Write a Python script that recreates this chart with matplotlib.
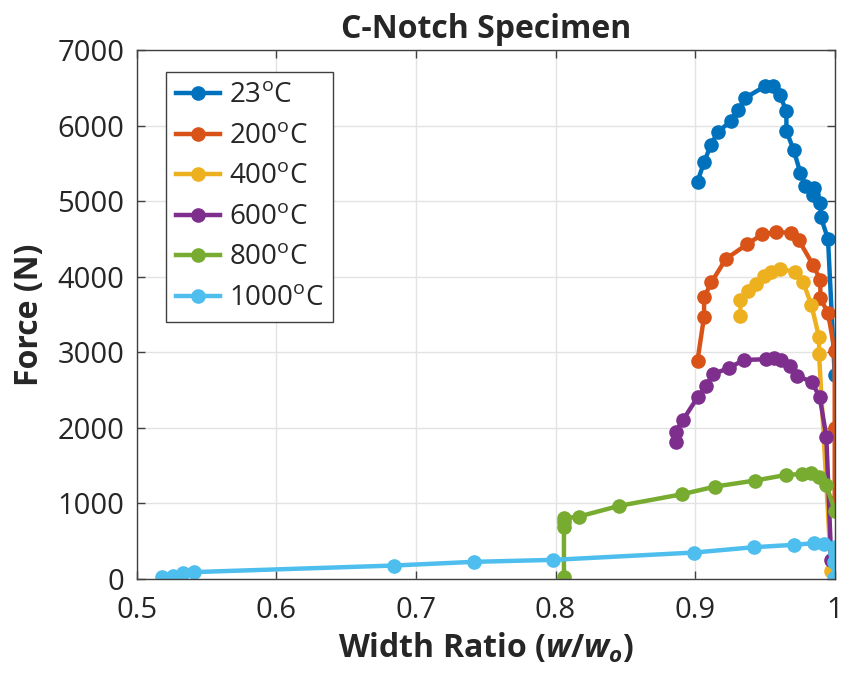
import numpy as np
import matplotlib
matplotlib.use("Agg")
import matplotlib.pyplot as plt
from matplotlib.ticker import MultipleLocator, FormatStrFormatter

# =========================
# DATI
# =========================
x_23 = [0.9017, 0.9064, 0.9112, 0.9164, 0.926, 0.931, 0.936, 0.950, 0.9558, 0.9606,
        0.9654, 0.9654, 0.9706, 0.9754, 0.979, 0.985, 0.9845, 0.9897, 0.990, 0.9952, 1.0]
f_23 = [5260, 5514, 5743, 5919, 6065, 6206, 6369, 6520, 6520, 6405,
        6193, 5928, 5677, 5376, 5200, 5170, 5081, 4971, 4794, 4499, 2700]

x_200 = [0.9017, 0.9064, 0.9064, 0.9117, 0.922, 0.9372, 0.948, 0.9577, 0.969, 0.9742,
         0.9845, 0.9897, 0.9897, 0.9952, 1.0, 1.0, 1.0]
f_200 = [2889, 3471, 3727, 3926, 4235, 4429, 4561, 4588, 4583, 4486,
         4155, 3957, 3714, 3520, 3017, 2003, 1023]

x_400 = [0.9324, 0.9324, 0.938, 0.9434, 0.949, 0.9547, 0.9606, 0.9718, 0.9773, 0.9833,
         0.9888, 0.9888, 0.9975]
f_400 = [3485, 3692, 3811, 3904, 4010, 4059, 4098, 4067, 3934, 3626,
         3198, 2973, 110]

x_600 = [0.8861, 0.8861, 0.8913, 0.9021, 0.9081, 0.9128, 0.924, 0.9348, 0.951, 0.9563,
         0.9618, 0.9678, 0.9733, 0.9837, 0.9893, 0.994, 0.9975]
f_600 = [1817, 1949, 2104, 2413, 2558, 2713, 2788, 2898, 2907, 2920,
         2898, 2823, 2690, 2603, 2404, 1883, 250]

x_800 = [0.806, 0.806, 0.806, 0.806, 0.8168, 0.8455, 0.8909, 0.9145, 0.9427, 0.9654,
         0.9769, 0.9828, 0.9885, 0.994, 1.0]
f_800 = [20, 690, 750, 800, 825, 966, 1121, 1222, 1301, 1376,
         1389, 1398, 1354, 1244, 900]

x_1000 = [0.5181, 0.5256, 0.5332, 0.5408, 0.6841, 0.7414, 0.7982, 0.8992, 0.9422, 0.9708,
          0.9850, 0.9923, 1.0, 1.0, 0.9995, 0.9995]
f_1000 = [20, 44, 75, 89, 176, 225, 251, 348, 419, 450,
          472, 459, 428, 348, 221, 15]

serie = [
    ("23", x_23, f_23, "#0072BD"),
    ("200", x_200, f_200, "#D95319"),
    ("400", x_400, f_400, "#EDB120"),
    ("600", x_600, f_600, "#7E2F8E"),
    ("800", x_800, f_800, "#77AC30"),
    ("1000", x_1000, f_1000, "#4DBEEE"),
]

# =========================
# STILE
# =========================
plt.rcParams["font.family"] = ["Open Sans", "DejaVu Sans"]
plt.rcParams["mathtext.fontset"] = "custom"
plt.rcParams["mathtext.rm"] = "Open Sans:bold"
plt.rcParams["mathtext.it"] = "Open Sans:bold:italic"
plt.rcParams["mathtext.sf"] = "Open Sans"

fig = plt.figure(figsize=(8.5, 6.77), dpi=100)
ax = fig.add_axes([0.161, 0.145, 0.821, 0.781])

for temp, xs, fs, col in serie:
    ax.plot(xs, fs, "-o", color=col, lw=3.2, ms=9.5, label=temp + r"$^{\mathsf{o}}$C")

ax.set_xlim(0.5, 1.0)
ax.set_ylim(0, 7000)
ax.xaxis.set_major_locator(MultipleLocator(0.1))
ax.yaxis.set_major_locator(MultipleLocator(1000))
ax.xaxis.set_major_formatter(FormatStrFormatter("%g"))

ax.grid(True, color="#e3e3e3", lw=1)
ax.set_axisbelow(True)
for s in ax.spines.values():
    s.set_color("#404040")
    s.set_linewidth(1)
ax.tick_params(direction="in", length=6, width=1, color="#404040",
               labelsize=21, labelcolor="#262626", top=True, right=True)
ax.tick_params(axis="x", pad=12)
ax.tick_params(axis="y", pad=9)

ax.set_title("C-Notch Specimen", fontsize=23, fontweight="bold", color="#262626", pad=9)
ax.set_xlabel(r"Width Ratio $(w/w_o)$", fontsize=23, fontweight="bold", color="#262626", labelpad=5)
ax.set_ylabel("Force (N)", fontsize=23, fontweight="bold", color="#262626", labelpad=8)

leg = ax.legend(loc="upper left", bbox_to_anchor=(0.042, 0.958), fontsize=20,
                fancybox=False, framealpha=1, edgecolor="#404040",
                handlelength=1.6, handletextpad=0.3, borderpad=0.35,
                labelspacing=0.45, borderaxespad=0)
leg.get_frame().set_linewidth(1)
for t in leg.get_texts():
    t.set_color("#262626")

plt.savefig("out.png", dpi=100)
plt.close()
